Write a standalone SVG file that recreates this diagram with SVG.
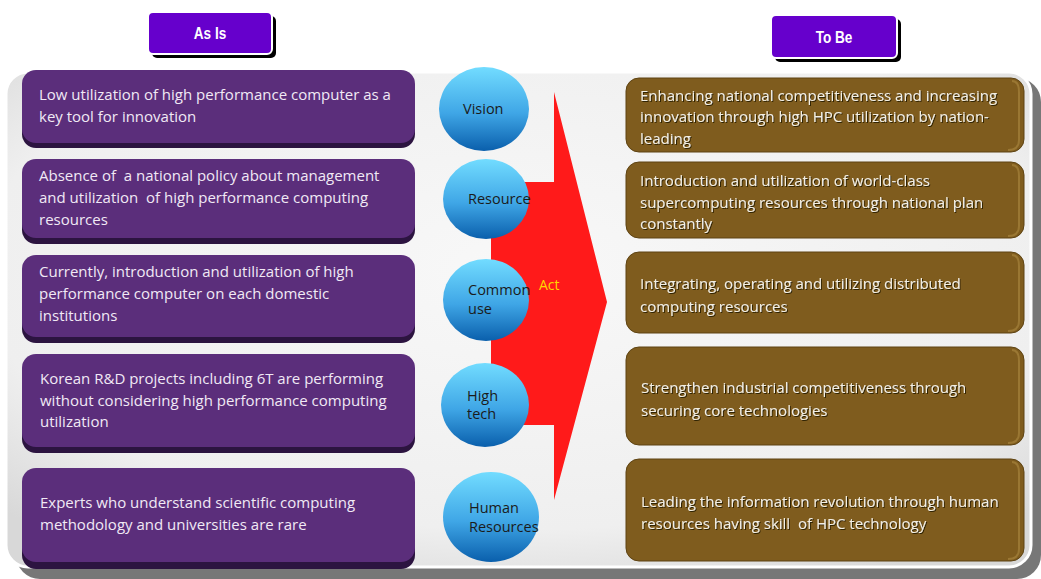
<svg xmlns="http://www.w3.org/2000/svg" width="1041" height="579" viewBox="0 0 1041 579">
<defs>
<radialGradient id="bg" cx="0.5" cy="0.4" r="0.7">
<stop offset="0" stop-color="#f8f8f8"/>
<stop offset="0.75" stop-color="#efefef"/>
<stop offset="1" stop-color="#d8d8d8"/>
</radialGradient>
<linearGradient id="ball" x1="0" y1="0" x2="0" y2="1">
<stop offset="0" stop-color="#72dcff"/>
<stop offset="0.55" stop-color="#3fa6e6"/>
<stop offset="1" stop-color="#0a5fac"/>
</linearGradient>
<filter id="ts" x="-5%" y="-20%" width="110%" height="140%">
<feDropShadow dx="1" dy="1" stdDeviation="0.6" flood-color="#2a1c05" flood-opacity="0.9"/>
</filter>
</defs>
<style>
.p{fill:#5b2e7b}
.ps{fill:#2c1440}
.b{fill:#7f5c1e;stroke:#5e4312;stroke-width:1}
.bi{fill:none;stroke:#9a7733;stroke-width:2}
.t{font-family:"Open Sans","Liberation Sans",sans-serif;font-size:15px;white-space:pre}
.pt{fill:#f1e9f5}
.bt{fill:#f3efe4}
.ct{font-family:"Open Sans","Liberation Sans",sans-serif;font-size:14.5px;fill:#1b1b1b}
.hd{font-family:"Liberation Sans",Arial,sans-serif;font-weight:bold;font-size:17px;fill:#ffffff;text-anchor:middle}
.btn{fill:#6600cc;stroke:#ffffff;stroke-width:2}
.ball{fill:url(#ball)}
</style>

<g id="panel">
<rect x="16" y="78" width="1025" height="501" rx="24" fill="#777777"/>
<rect x="6" y="72" width="1025" height="495" rx="22" fill="url(#bg)" stroke="#ffffff" stroke-width="3"/>
</g>

<g id="as-is-header">
<rect x="152" y="16" width="124" height="42" rx="5" fill="#000000"/>
<rect x="148" y="12" width="124" height="42" rx="5" class="btn"/>
<text class="hd" transform="translate(210,39) scale(0.8,1)">As Is</text>
</g>
<g id="to-be-header">
<rect x="775" y="19" width="126" height="43" rx="5" fill="#000000"/>
<rect x="771" y="15" width="126" height="43" rx="5" class="btn"/>
<text class="hd" transform="translate(834,43) scale(0.8,1)">To Be</text>
</g>

<g id="connectors">
<polygon id="act-arrow" points="491,182 554,182 554,92 607,302 554,500 554,425 491,425" fill="#ff1a1a"/>
<text x="539" y="290" font-family="Open Sans, Liberation Sans, sans-serif" font-size="14px" fill="#ffd700">Act</text>
</g>

<g id="asis-1">
<rect x="22" y="75" width="393" height="73" rx="14" class="ps"/>
<rect x="22" y="70" width="393" height="73" rx="14" class="p"/>
<text class="t pt" x="39" y="100">Low utilization of high performance computer as a</text>
<text class="t pt" x="39" y="122">key tool for innovation</text>
</g>
<g id="asis-2">
<rect x="22" y="165" width="393" height="79" rx="14" class="ps"/>
<rect x="22" y="159" width="393" height="79" rx="14" class="p"/>
<text class="t pt" x="39" y="181">Absence of  a national policy about management</text>
<text class="t pt" x="39" y="203">and utilization  of high performance computing</text>
<text class="t pt" x="39" y="225">resources</text>
</g>
<g id="asis-3">
<rect x="22" y="261" width="393" height="82" rx="14" class="ps"/>
<rect x="22" y="255" width="393" height="82" rx="14" class="p"/>
<text class="t pt" x="39" y="277">Currently, introduction and utilization of high</text>
<text class="t pt" x="39" y="299">performance computer on each domestic</text>
<text class="t pt" x="39" y="321">institutions</text>
</g>
<g id="asis-4">
<rect x="22" y="360" width="393" height="93" rx="14" class="ps"/>
<rect x="22" y="354" width="393" height="93" rx="14" class="p"/>
<text class="t pt" x="40" y="384">Korean R&amp;D projects including 6T are performing</text>
<text class="t pt" x="40" y="406">without considering high performance computing</text>
<text class="t pt" x="40" y="427">utilization</text>
</g>
<g id="asis-5">
<rect x="22" y="474" width="393" height="95" rx="14" class="ps"/>
<rect x="22" y="468" width="393" height="94" rx="14" class="p"/>
<text class="t pt" x="40" y="508">Experts who understand scientific computing</text>
<text class="t pt" x="40" y="530">methodology and universities are rare</text>
</g>

<g id="vision">
<ellipse cx="484" cy="109" rx="45" ry="42" class="ball"/>
<text class="ct" x="463" y="114">Vision</text>
</g>
<g id="resource">
<ellipse cx="486" cy="199" rx="43" ry="40" class="ball"/>
<text class="ct" x="468" y="204">Resource</text>
</g>
<g id="common-use">
<ellipse cx="486" cy="300" rx="43" ry="41" class="ball"/>
<text class="ct" x="468" y="295">Common</text>
<text class="ct" x="468" y="314">use</text>
</g>
<g id="high-tech">
<ellipse cx="485" cy="405" rx="44" ry="42" class="ball"/>
<text class="ct" x="467" y="401">High</text>
<text class="ct" x="467" y="419">tech</text>
</g>
<g id="human-resources">
<ellipse cx="491" cy="517" rx="48" ry="45" class="ball"/>
<text class="ct" x="469" y="513">Human</text>
<text class="ct" x="469" y="532">Resources</text>
</g>

<g id="tobe-1">
<rect x="626" y="78" width="398" height="74" rx="13" class="b"/>
<path d="M1012,81 Q1019,81 1019,92 L1019,140 Q1019,150 1008,150" class="bi"/>
<g filter="url(#ts)">
<text class="t bt" x="640" y="101">Enhancing national competitiveness and increasing</text>
<text class="t bt" x="640" y="122">innovation through high HPC utilization by nation-</text>
<text class="t bt" x="640" y="144">leading</text>
</g>
</g>
<g id="tobe-2">
<rect x="626" y="162" width="398" height="76" rx="13" class="b"/>
<path d="M1012,165 Q1019,165 1019,176 L1019,226 Q1019,236 1008,236" class="bi"/>
<g filter="url(#ts)">
<text class="t bt" x="640" y="186">Introduction and utilization of world-class</text>
<text class="t bt" x="640" y="208">supercomputing resources through national plan</text>
<text class="t bt" x="640" y="229">constantly</text>
</g>
</g>
<g id="tobe-3">
<rect x="626" y="252" width="398" height="81" rx="13" class="b"/>
<path d="M1012,255 Q1019,255 1019,266 L1019,321 Q1019,331 1008,331" class="bi"/>
<g filter="url(#ts)">
<text class="t bt" x="640" y="289">Integrating, operating and utilizing distributed</text>
<text class="t bt" x="640" y="312">computing resources</text>
</g>
</g>
<g id="tobe-4">
<rect x="626" y="347" width="398" height="98" rx="13" class="b"/>
<path d="M1012,350 Q1019,350 1019,361 L1019,433 Q1019,443 1008,443" class="bi"/>
<g filter="url(#ts)">
<text class="t bt" x="641" y="393">Strengthen industrial competitiveness through</text>
<text class="t bt" x="641" y="416">securing core technologies</text>
</g>
</g>
<g id="tobe-5">
<rect x="626" y="459" width="398" height="102" rx="13" class="b"/>
<path d="M1012,462 Q1019,462 1019,473 L1019,549 Q1019,559 1008,559" class="bi"/>
<g filter="url(#ts)">
<text class="t bt" x="641" y="507">Leading the information revolution through human</text>
<text class="t bt" x="641" y="529">resources having skill  of HPC technology</text>
</g>
</g>
</svg>
